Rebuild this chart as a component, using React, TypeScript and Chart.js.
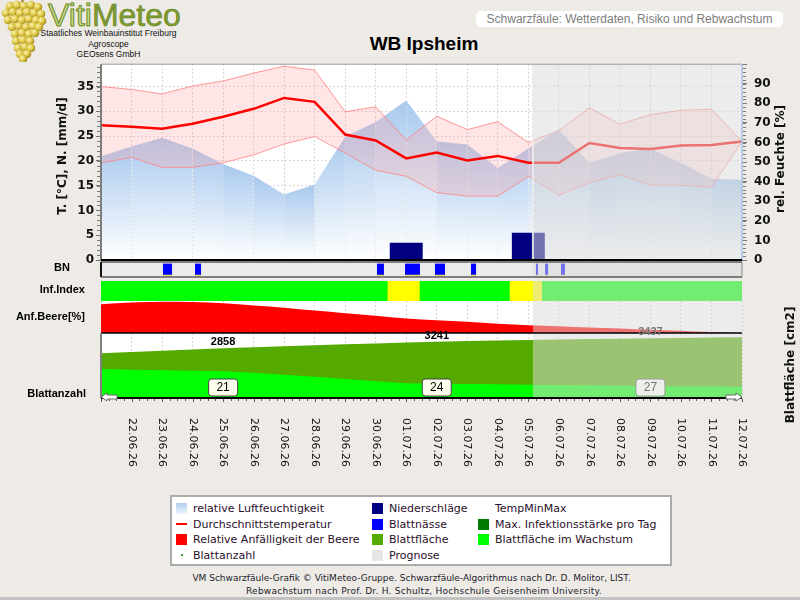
import React, { useEffect, useRef } from 'react';
import { Chart, registerables } from 'chart.js';
import type { ChartConfiguration, Plugin } from 'chart.js';

Chart.register(...registerables);

// ---- data (day index 0 = 21.06.26) ----
const DATES = [
  '21.06.26', '22.06.26', '23.06.26', '24.06.26', '25.06.26', '26.06.26', '27.06.26', '28.06.26',
  '29.06.26', '30.06.26', '01.07.26', '02.07.26', '03.07.26', '04.07.26', '05.07.26', '06.07.26',
  '07.07.26', '08.07.26', '09.07.26', '10.07.26', '11.07.26', '12.07.26',
];
const TEMP_MEAN = [27.2, 26.9, 26.5, 27.5, 28.9, 30.5, 32.7, 31.9, 25.3, 24.1, 20.5, 21.7, 20.1, 21.0, 19.6, 19.6, 23.6, 22.6, 22.4, 23.1, 23.2, 23.9];
const TEMP_MAX = [35.0, 34.4, 33.5, 35.1, 36.1, 37.7, 39.1, 38.3, 29.9, 30.9, 24.2, 29.0, 26.3, 27.9, 23.7, 26.1, 30.7, 27.4, 29.3, 30.2, 30.4, 23.9];
const TEMP_MIN = [19.6, 20.7, 18.7, 18.7, 19.6, 21.2, 23.4, 24.9, 21.6, 18.1, 16.9, 13.6, 12.9, 12.9, 16.9, 13.1, 15.6, 17.2, 15.1, 15.1, 14.7, 23.9];
const HUMIDITY = [53, 58, 62.5, 57, 49, 43, 33.5, 38.5, 63, 70.5, 81.5, 60.5, 59, 47, 57, 66.5, 49.5, 54.5, 57, 49.5, 41.5, 41];
const PRECIP = [0, 0, 0, 0, 0, 0, 0, 0, 0, 0, 3.5, 0, 0, 0, 5.5, 0, 0, 0, 0, 0, 0, 0];

// leaf wetness periods [from, to] in days
const LEAF_WETNESS: [number, number][] = [
  [2.03, 2.33], [3.08, 3.28], [9.04, 9.27], [9.96, 10.45], [10.94, 11.27],
  [12.12, 12.29], [14.25, 14.32], [14.55, 14.65], [15.07, 15.2],
];
// infection index periods and level (0 = low, 1 = moderate)
const INFECTION_FROM = [0, 9.4, 10.45, 13.4, 14.46];
const INFECTION_TO = [9.4, 10.45, 13.4, 14.46, 21];
const INFECTION_LEVEL = [0, 1, 0, 1, 0];

const BERRY_SUSCEPTIBILITY = [90, 95, 98, 97, 93, 86, 79, 70, 62, 54, 45, 40, 35, 29, 24, 21, 17, 14, 10, 7, 3, 0];
const LEAF_AREA = [2578, 2650, 2722, 2792, 2858, 2920, 2978, 3034, 3088, 3140, 3192, 3241, 3276, 3307, 3337, 3364, 3390, 3414, 3437, 3458, 3478, 3496];
const LEAF_AREA_GROWING = [1670, 1630, 1595, 1570, 1535, 1455, 1340, 1225, 1095, 960, 845, 825, 805, 790, 765, 750, 730, 710, 690, 680, 675, 650];
const LEAF_COUNT_DAYS = [4, 11, 18];
const LEAF_COUNT = [21, 24, 27];

const FORECAST_START = 14.15;

// ---- layout / style ----
const W = 800;
const PLOT_LEFT = 101;
const PLOT_RIGHT_GAP = 58;
const BG = '#eeebe7';
const DEJAVU = '"DejaVu Sans", Verdana, sans-serif';
const ARIAL = '"Liberation Sans", Arial, sans-serif';
const X_MAX = DATES.length - 1;

const xy = (vals: number[]) => vals.map((y, x) => ({ x, y }));

const baseOptions = {
  animation: false as const,
  responsive: false,
  events: [] as any[],
  plugins: { legend: { display: false }, tooltip: { enabled: false } },
};

const dayAxis = (): any => ({
  type: 'linear',
  min: 0,
  max: X_MAX,
  offset: false,
  ticks: { display: false, stepSize: 1, maxTicksLimit: 200 },
  grid: { color: '#d4d4d4', drawTicks: false, offset: false },
  border: { display: false, dash: [2, 2] },
  afterFit: (s: any) => { s.height = 0; },
});

// ---- plugins ----
const plotBackground = (color: string): Plugin => ({
  id: 'plotBackground',
  beforeDraw(chart) {
    const { ctx, chartArea: a } = chart;
    ctx.save();
    ctx.fillStyle = color;
    ctx.fillRect(a.left, a.top, a.width, a.height);
    ctx.restore();
  },
});

const forecastShade = (divider = false): Plugin => ({
  id: 'forecastShade',
  afterDatasetsDraw(chart) {
    const { ctx, chartArea: a } = chart;
    const x0 = chart.scales.x.getPixelForValue(FORECAST_START);
    ctx.save();
    ctx.fillStyle = 'rgba(218,218,218,0.52)';
    ctx.fillRect(x0, a.top, a.right - x0, a.height);
    if (divider) {
      ctx.strokeStyle = 'rgba(236,236,236,0.9)';
      ctx.lineWidth = 2;
      ctx.beginPath();
      ctx.moveTo(x0, a.top);
      ctx.lineTo(x0, a.bottom);
      ctx.stroke();
    }
    ctx.restore();
  },
});

type Edge = { color: string; width: number };
const frame = (edges: { top?: Edge; right?: Edge; bottom?: Edge; left?: Edge }): Plugin => ({
  id: 'frame',
  afterDraw(chart) {
    const { ctx, chartArea: a } = chart;
    const seg = (e: Edge | undefined, x1: number, y1: number, x2: number, y2: number) => {
      if (!e) return;
      ctx.save();
      ctx.strokeStyle = e.color;
      ctx.lineWidth = e.width;
      ctx.beginPath();
      ctx.moveTo(x1, y1);
      ctx.lineTo(x2, y2);
      ctx.stroke();
      ctx.restore();
    };
    seg(edges.top, a.left, a.top, a.right, a.top);
    seg(edges.right, a.right, a.top, a.right, a.bottom);
    seg(edges.left, a.left, a.top, a.left, a.bottom);
    seg(edges.bottom, a.left, a.bottom, a.right, a.bottom);
  },
});

const minorTicks: Plugin = {
  id: 'minorTicks',
  afterDraw(chart) {
    const { ctx, chartArea: a } = chart;
    const yT = chart.scales.yT;
    const yH = chart.scales.yH;
    ctx.save();
    ctx.strokeStyle = '#7a7a7a';
    ctx.lineWidth = 1;
    ctx.beginPath();
    for (let v = 0; v <= yT.max; v += 1) {
      const y = Math.round(yT.getPixelForValue(v)) + 0.5;
      ctx.moveTo(a.left - 4, y);
      ctx.lineTo(a.left - 1, y);
    }
    for (let v = 0; v <= yH.max; v += 2) {
      const y = Math.round(yH.getPixelForValue(v)) + 0.5;
      ctx.moveTo(a.right + 1, y);
      ctx.lineTo(a.right + 4, y);
    }
    ctx.stroke();
    ctx.restore();
  },
};

const leafAxis: Plugin = {
  id: 'leafAxis',
  afterDraw(chart) {
    const { ctx, chartArea: a } = chart;
    const xs = chart.scales.x;
    const ys = chart.scales.y;
    ctx.save();
    ctx.textAlign = 'center';
    ctx.textBaseline = 'middle';

    LEAF_COUNT_DAYS.forEach((d, k) => {
      const x = xs.getPixelForValue(d);
      const prog = d >= FORECAST_START;
      ctx.font = `bold 11px ${ARIAL}`;
      ctx.fillStyle = prog ? '#777777' : '#000000';
      ctx.fillText(String(LEAF_AREA[d]), x, ys.getPixelForValue(LEAF_AREA[d]) - 6);

      const bw = 29;
      const bh = 17;
      const by = a.bottom - 19;
      ctx.beginPath();
      ctx.roundRect(x - bw / 2, by, bw, bh, 3);
      ctx.fillStyle = prog ? '#efefe9' : '#ffffee';
      ctx.fill();
      ctx.lineWidth = 1;
      ctx.strokeStyle = prog ? '#9c9c9c' : '#444444';
      ctx.stroke();
      ctx.font = `12px ${ARIAL}`;
      ctx.fillStyle = prog ? '#747474' : '#000000';
      ctx.fillText(String(LEAF_COUNT[k]), x, by + bh / 2 + 0.5);
    });

    // time axis line with 6-hourly ticks
    ctx.strokeStyle = '#000';
    ctx.lineWidth = 2;
    ctx.beginPath();
    ctx.moveTo(a.left, a.bottom);
    ctx.lineTo(a.right, a.bottom);
    ctx.stroke();
    ctx.strokeStyle = '#5a5a5a';
    ctx.lineWidth = 1;
    ctx.beginPath();
    for (let v = 0; v <= X_MAX + 1e-9; v += 0.25) {
      const x = Math.round(xs.getPixelForValue(v)) + 0.5;
      ctx.moveTo(x, a.bottom + 1);
      ctx.lineTo(x, a.bottom + (Math.abs(v - Math.round(v)) < 1e-6 ? 4 : 3));
    }
    ctx.stroke();

    // arrows at both ends of the time axis
    const arrow = (tip: number, dir: number) => {
      const y = a.bottom - 1;
      ctx.beginPath();
      ctx.moveTo(tip, y);
      ctx.lineTo(tip - dir * 6, y - 4);
      ctx.lineTo(tip - dir * 6, y - 2);
      ctx.lineTo(tip - dir * 16, y - 2);
      ctx.lineTo(tip - dir * 16, y + 2);
      ctx.lineTo(tip - dir * 6, y + 2);
      ctx.lineTo(tip - dir * 6, y + 4);
      ctx.closePath();
      ctx.fillStyle = '#ffffff';
      ctx.fill();
      ctx.strokeStyle = '#6a6a6a';
      ctx.stroke();
    };
    arrow(a.left, -1);
    arrow(a.right, 1);

    // date labels, reading downwards
    ctx.font = `11px ${DEJAVU}`;
    ctx.fillStyle = '#111111';
    ctx.textAlign = 'left';
    for (let i = 1; i < DATES.length; i++) {
      ctx.save();
      ctx.translate(xs.getPixelForValue(i), a.bottom + 20);
      ctx.rotate(Math.PI / 2);
      ctx.fillText(DATES[i], 0, 0);
      ctx.restore();
    }
    ctx.restore();
  },
};

// per-day column gradient for the humidity area
const humidityGradient = (c: any) => {
  const chart = c.chart;
  const area = chart && chart.chartArea;
  if (!area || !c.p0 || !c.p1) return undefined;
  const g = chart.ctx.createLinearGradient(0, Math.min(c.p0.y, c.p1.y), 0, area.bottom);
  g.addColorStop(0, '#a9c9ee');
  g.addColorStop(1, '#ffffff');
  return g;
};

// ---- chart configurations ----
const tickFont = { family: DEJAVU, size: 12, weight: 'bold' as const };

function weatherConfig(): ChartConfiguration {
  return {
    type: 'line',
    data: {
      datasets: [
        { label: 'Durchschnittstemperatur', data: xy(TEMP_MEAN), yAxisID: 'yT', borderColor: '#ff0000', borderWidth: 2.5, pointRadius: 0 },
        { label: 'TempMax', data: xy(TEMP_MAX), yAxisID: 'yT', borderColor: 'rgba(255,125,125,0.8)', borderWidth: 1, pointRadius: 0, fill: '+1', backgroundColor: 'rgba(255,160,160,0.28)' },
        { label: 'TempMin', data: xy(TEMP_MIN), yAxisID: 'yT', borderColor: 'rgba(255,125,125,0.8)', borderWidth: 1, pointRadius: 0, fill: false },
        { type: 'bar', label: 'Niederschläge', data: xy(PRECIP), yAxisID: 'yT', backgroundColor: '#000080', barPercentage: 1, categoryPercentage: 1.08 } as any,
        {
          label: 'relative Luftfeuchtigkeit', data: xy(HUMIDITY), yAxisID: 'yH', borderColor: 'transparent', borderWidth: 0, pointRadius: 0,
          fill: 'origin', backgroundColor: '#b4d0ee', segment: { backgroundColor: humidityGradient },
        } as any,
      ],
    },
    options: {
      ...baseOptions,
      layout: { padding: { top: 12, bottom: 20, left: 0, right: 0 } },
      scales: {
        x: dayAxis(),
        yT: {
          type: 'linear', position: 'left', min: 0, max: 39.5, bounds: 'data',
          ticks: { stepSize: 5, includeBounds: false, font: tickFont, color: '#111111', padding: 2 },
          grid: { color: '#d8d8d8', tickColor: '#777777', tickLength: 5 },
          border: { display: false, dash: [2, 2] },
          afterFit: (s: any) => { s.width = PLOT_LEFT; },
        },
        yH: {
          type: 'linear', position: 'right', min: 0, max: 100,
          ticks: { stepSize: 10, font: tickFont, color: '#111111', padding: 7, callback: (v: any) => (v >= 100 ? '' : String(v)) },
          grid: { drawOnChartArea: false, tickColor: '#777777', tickLength: 5 },
          border: { display: false },
          afterFit: (s: any) => { s.width = PLOT_RIGHT_GAP; },
        },
      } as any,
    },
    plugins: [
      plotBackground('#ffffff'),
      forecastShade(true),
      minorTicks,
      frame({
        top: { color: '#9a9a9a', width: 1 },
        right: { color: '#a6c4e6', width: 1.5 },
        left: { color: '#7d7d7d', width: 2 },
        bottom: { color: '#000000', width: 2 },
      }),
    ],
  };
}

function wetnessConfig(): ChartConfiguration {
  return {
    type: 'bar',
    data: {
      labels: ['BN'],
      datasets: [{
        label: 'Blattnässe',
        data: LEAF_WETNESS.map(([s, e]) => ({ x: [s, e], y: 'BN' })) as any,
        backgroundColor: '#0000ff',
        borderColor: '#d6d600',
        borderWidth: { top: 0, left: 0, right: 0, bottom: 1 },
        borderSkipped: false,
        barThickness: 12,
        grouped: false,
      } as any],
    },
    options: {
      ...baseOptions,
      indexAxis: 'y',
      layout: { padding: { left: PLOT_LEFT, right: PLOT_RIGHT_GAP, top: 2, bottom: 2 } },
      scales: {
        x: { type: 'linear', min: 0, max: X_MAX, display: false },
        y: { type: 'category', display: false },
      },
    },
    plugins: [
      plotBackground('#ebebeb'),
      forecastShade(),
      frame({
        top: { color: '#5a5a5a', width: 1.5 },
        bottom: { color: '#5a5a5a', width: 1.5 },
        left: { color: '#111111', width: 2 },
        right: { color: '#8a8a8a', width: 1 },
      }),
    ],
  };
}

function infectionConfig(): ChartConfiguration {
  return {
    type: 'bar',
    data: {
      labels: ['Inf.Index'],
      datasets: [{
        label: 'Inf.Index',
        data: INFECTION_FROM.map((s, i) => ({ x: [s, INFECTION_TO[i]], y: 'Inf.Index' })) as any,
        backgroundColor: INFECTION_LEVEL.map((l) => (l === 1 ? '#ffff00' : '#00ff00')),
        borderWidth: 0,
        barThickness: 20,
        grouped: false,
      } as any],
    },
    options: {
      ...baseOptions,
      indexAxis: 'y',
      layout: { padding: { left: PLOT_LEFT, right: PLOT_RIGHT_GAP, top: 0, bottom: 0 } },
      scales: {
        x: { type: 'linear', min: 0, max: X_MAX, display: false },
        y: { type: 'category', display: false },
      },
    },
    plugins: [forecastShade()],
  };
}

function berryConfig(): ChartConfiguration {
  return {
    type: 'line',
    data: {
      datasets: [{
        label: 'Relative Anfälligkeit der Beere',
        data: xy(BERRY_SUSCEPTIBILITY),
        borderColor: 'transparent',
        borderWidth: 0,
        pointRadius: 0,
        fill: 'origin',
        backgroundColor: '#ff0000',
        cubicInterpolationMode: 'monotone',
      }],
    },
    options: {
      ...baseOptions,
      layout: { padding: { left: PLOT_LEFT, right: PLOT_RIGHT_GAP, top: 0, bottom: 0 } },
      scales: {
        x: dayAxis(),
        y: { type: 'linear', min: 0, max: 100, bounds: 'data', display: false },
      } as any,
    },
    plugins: [plotBackground('#ffffff'), forecastShade()],
  };
}

function leafConfig(): ChartConfiguration {
  return {
    type: 'line',
    data: {
      datasets: [
        { label: 'Blattfläche im Wachstum', data: xy(LEAF_AREA_GROWING), borderColor: 'transparent', borderWidth: 0, pointRadius: 0, fill: 'origin', backgroundColor: '#00ff00' },
        { label: 'Blattfläche', data: xy(LEAF_AREA), borderColor: 'transparent', borderWidth: 0, pointRadius: 0, fill: 'origin', backgroundColor: '#55aa00' },
      ],
    },
    options: {
      ...baseOptions,
      layout: { padding: { left: PLOT_LEFT, right: PLOT_RIGHT_GAP, top: 15, bottom: 75 } },
      scales: {
        x: dayAxis(),
        y: { type: 'linear', min: 0, max: 3740, bounds: 'data', display: false },
      } as any,
    },
    plugins: [
      plotBackground('#ffffff'),
      forecastShade(),
      frame({ top: { color: '#000000', width: 1.5 }, left: { color: '#808080', width: 2 } }),
      leafAxis,
    ],
  };
}

// ---- components ----
function ChartPanel({ top, height, make }: { top: number; height: number; make: () => ChartConfiguration }) {
  const ref = useRef<HTMLCanvasElement>(null);
  useEffect(() => {
    if (!ref.current) return undefined;
    const chart = new Chart(ref.current, make());
    return () => chart.destroy();
  }, [make]);
  return <canvas ref={ref} width={W} height={height} style={{ position: 'absolute', left: 0, top, width: W, height }} />;
}

const BERRIES: [number, number][] = [
  [10, 6], [17, 5], [24, 6], [31, 5], [38, 7],
  [6, 13], [13, 12], [20, 13], [27, 12], [34, 13], [41, 14],
  [8, 20], [15, 19], [22, 20], [29, 19], [36, 20], [42, 21],
  [12, 27], [19, 26], [26, 27], [33, 26], [39, 27],
  [15, 34], [22, 33], [29, 34], [35, 33],
  [16, 41], [23, 40], [30, 41],
  [18, 48], [25, 47], [31, 48],
  [20, 54], [27, 54], [23, 59],
];

function Logo() {
  return (
    <svg width={200} height={62} style={{ position: 'absolute', left: 0, top: 0 }}>
      <defs>
        <radialGradient id="berry" cx="35%" cy="35%" r="70%">
          <stop offset="0%" stopColor="#fbf4b0" />
          <stop offset="55%" stopColor="#dcc545" />
          <stop offset="100%" stopColor="#9a8418" />
        </radialGradient>
      </defs>
      <line x1={22} y1={0} x2={25} y2={6} stroke="#8a7a20" strokeWidth={2} />
      {BERRIES.map(([cx, cy], i) => (
        <circle key={i} cx={cx} cy={cy} r={4.3} fill="url(#berry)" />
      ))}
      <text x={48} y={26} fontFamily={ARIAL} fontSize={32}>
        <tspan fill="#c6d68f" stroke="#6e8e22" strokeWidth={1}>Viti</tspan>
        <tspan fill="#7e9c2f" stroke="#66821e" strokeWidth={0.6}>Meteo</tspan>
      </text>
      <g fontFamily={ARIAL} fontSize={8.5} fill="#111" textAnchor="middle">
        <text x={108.5} y={36}>Staatliches Weinbauinstitut Freiburg</text>
        <text x={108.5} y={46.5}>Agroscope</text>
        <text x={108.5} y={56.5}>GEOsens GmbH</text>
      </g>
    </svg>
  );
}

const VTitle = ({ text, cx, cy }: { text: string; cx: number; cy: number }) => (
  <div style={{
    position: 'absolute', left: cx, top: cy, transform: 'translate(-50%,-50%) rotate(-90deg)',
    whiteSpace: 'nowrap', font: `bold 12px ${DEJAVU}`, color: '#111', lineHeight: '14px',
  }}>{text}</div>
);

const RowLabel = ({ text, right, cy }: { text: string; right: number; cy: number }) => (
  <div style={{
    position: 'absolute', right: W - right, top: cy - 8, lineHeight: '16px',
    font: `bold 11px ${ARIAL}`, color: '#000', whiteSpace: 'nowrap',
  }}>{text}</div>
);

type LegendItem = { text: string; x: number; row: number; symbol: React.ReactNode };
const sq = (bg: string) => <div style={{ width: 11, height: 11, background: bg }} />;
const LEGEND: LegendItem[] = [
  { text: 'relative Luftfeuchtigkeit', x: 176, row: 0, symbol: sq('linear-gradient(#aecdf0, #eef4fc)') },
  { text: 'Durchschnittstemperatur', x: 176, row: 1, symbol: <div style={{ width: 11, height: 11, display: 'flex', alignItems: 'center' }}><div style={{ width: 11, height: 2, background: '#ff0000' }} /></div> },
  { text: 'Relative Anfälligkeit der Beere', x: 176, row: 2, symbol: sq('#ff0000') },
  { text: 'Blattanzahl', x: 176, row: 3, symbol: <div style={{ width: 11, height: 11, display: 'flex', alignItems: 'center', justifyContent: 'center' }}><div style={{ width: 2, height: 2, background: '#3a9a3a' }} /></div> },
  { text: 'Niederschläge', x: 372, row: 0, symbol: sq('#000080') },
  { text: 'Blattnässe', x: 372, row: 1, symbol: sq('#0000ff') },
  { text: 'Blattfläche', x: 372, row: 2, symbol: sq('#55aa00') },
  { text: 'Prognose', x: 372, row: 3, symbol: sq('#e6e6e6') },
  { text: 'TempMinMax', x: 478, row: 0, symbol: <div style={{ width: 11, height: 11 }} /> },
  { text: 'Max. Infektionsstärke pro Tag', x: 478, row: 1, symbol: sq('#007a00') },
  { text: 'Blattfläche im Wachstum', x: 478, row: 2, symbol: sq('#00ff00') },
];

function Legend() {
  return (
    <div style={{ position: 'absolute', left: 170, top: 495, width: 498, height: 67, background: '#fff', border: '2px solid #ababab' }}>
      {LEGEND.map((it) => (
        <div key={it.text} style={{ position: 'absolute', left: it.x - 172, top: 4 + it.row * 15.5, height: 15, display: 'flex', alignItems: 'center', gap: 6 }}>
          {it.symbol}
          <span style={{ font: `11px ${DEJAVU}`, color: '#2a0f2a', whiteSpace: 'nowrap' }}>{it.text}</span>
        </div>
      ))}
    </div>
  );
}

const footLine = (text: string, cx: number, top: number, spacing: number) => (
  <div style={{
    position: 'absolute', left: cx - 300, width: 600, top, textAlign: 'center', font: `9px ${DEJAVU}`,
    color: '#1c1c2c', lineHeight: '13px', whiteSpace: 'nowrap', letterSpacing: spacing,
  }}>{text}</div>
);

export default function App() {
  return (
    <div style={{ position: 'absolute', left: 0, top: 0, width: W, height: 600, background: BG, overflow: 'hidden', fontFamily: ARIAL }}>
      <Logo />
      <div style={{
        position: 'absolute', left: 476, top: 11, width: 307, height: 16, background: '#fff', borderRadius: 5,
        color: '#7d7d7d', font: `12px ${ARIAL}`, lineHeight: '16px', textAlign: 'center', whiteSpace: 'nowrap',
      }}>Schwarzfäule: Wetterdaten, Risiko und Rebwachstum</div>
      <div style={{ position: 'absolute', left: 324, width: 200, top: 33, textAlign: 'center', font: `bold 19px ${ARIAL}`, lineHeight: '22px', color: '#000' }}>WB Ipsheim</div>

      <ChartPanel top={50} height={230} make={weatherConfig} />
      <ChartPanel top={260} height={19} make={wetnessConfig} />
      <ChartPanel top={281} height={20} make={infectionConfig} />
      <ChartPanel top={301} height={32} make={berryConfig} />
      <ChartPanel top={318} height={155} make={leafConfig} />

      <VTitle text="T. [°C], N. [mm/d]" cx={62} cy={156} />
      <VTitle text="rel. Feuchte [%]" cx={780} cy={159} />
      <VTitle text="Blattfläche [cm2]" cx={790} cy={365} />

      <div style={{ position: 'absolute', left: 50, width: 24, top: 261, lineHeight: '16px', textAlign: 'center', font: `bold 11px ${ARIAL}` }}>BN</div>
      <RowLabel text="Inf.Index" right={85} cy={290.5} />
      <RowLabel text="Anf.Beere[%]" right={85} cy={318} />
      <RowLabel text="Blattanzahl" right={86} cy={395} />

      <Legend />

      {footLine('VM Schwarzfäule-Grafik © VitiMeteo-Gruppe. Schwarzfäule-Algorithmus nach Dr. D. Molitor, LIST.', 411.5, 572, 0)}
      {footLine('Rebwachstum nach Prof. Dr. H. Schultz, Hochschule Geisenheim University.', 424, 585, 0.25)}
      <div style={{ position: 'absolute', left: 0, top: 597, width: W, height: 3, background: '#c2c2c2' }} />
    </div>
  );
}
